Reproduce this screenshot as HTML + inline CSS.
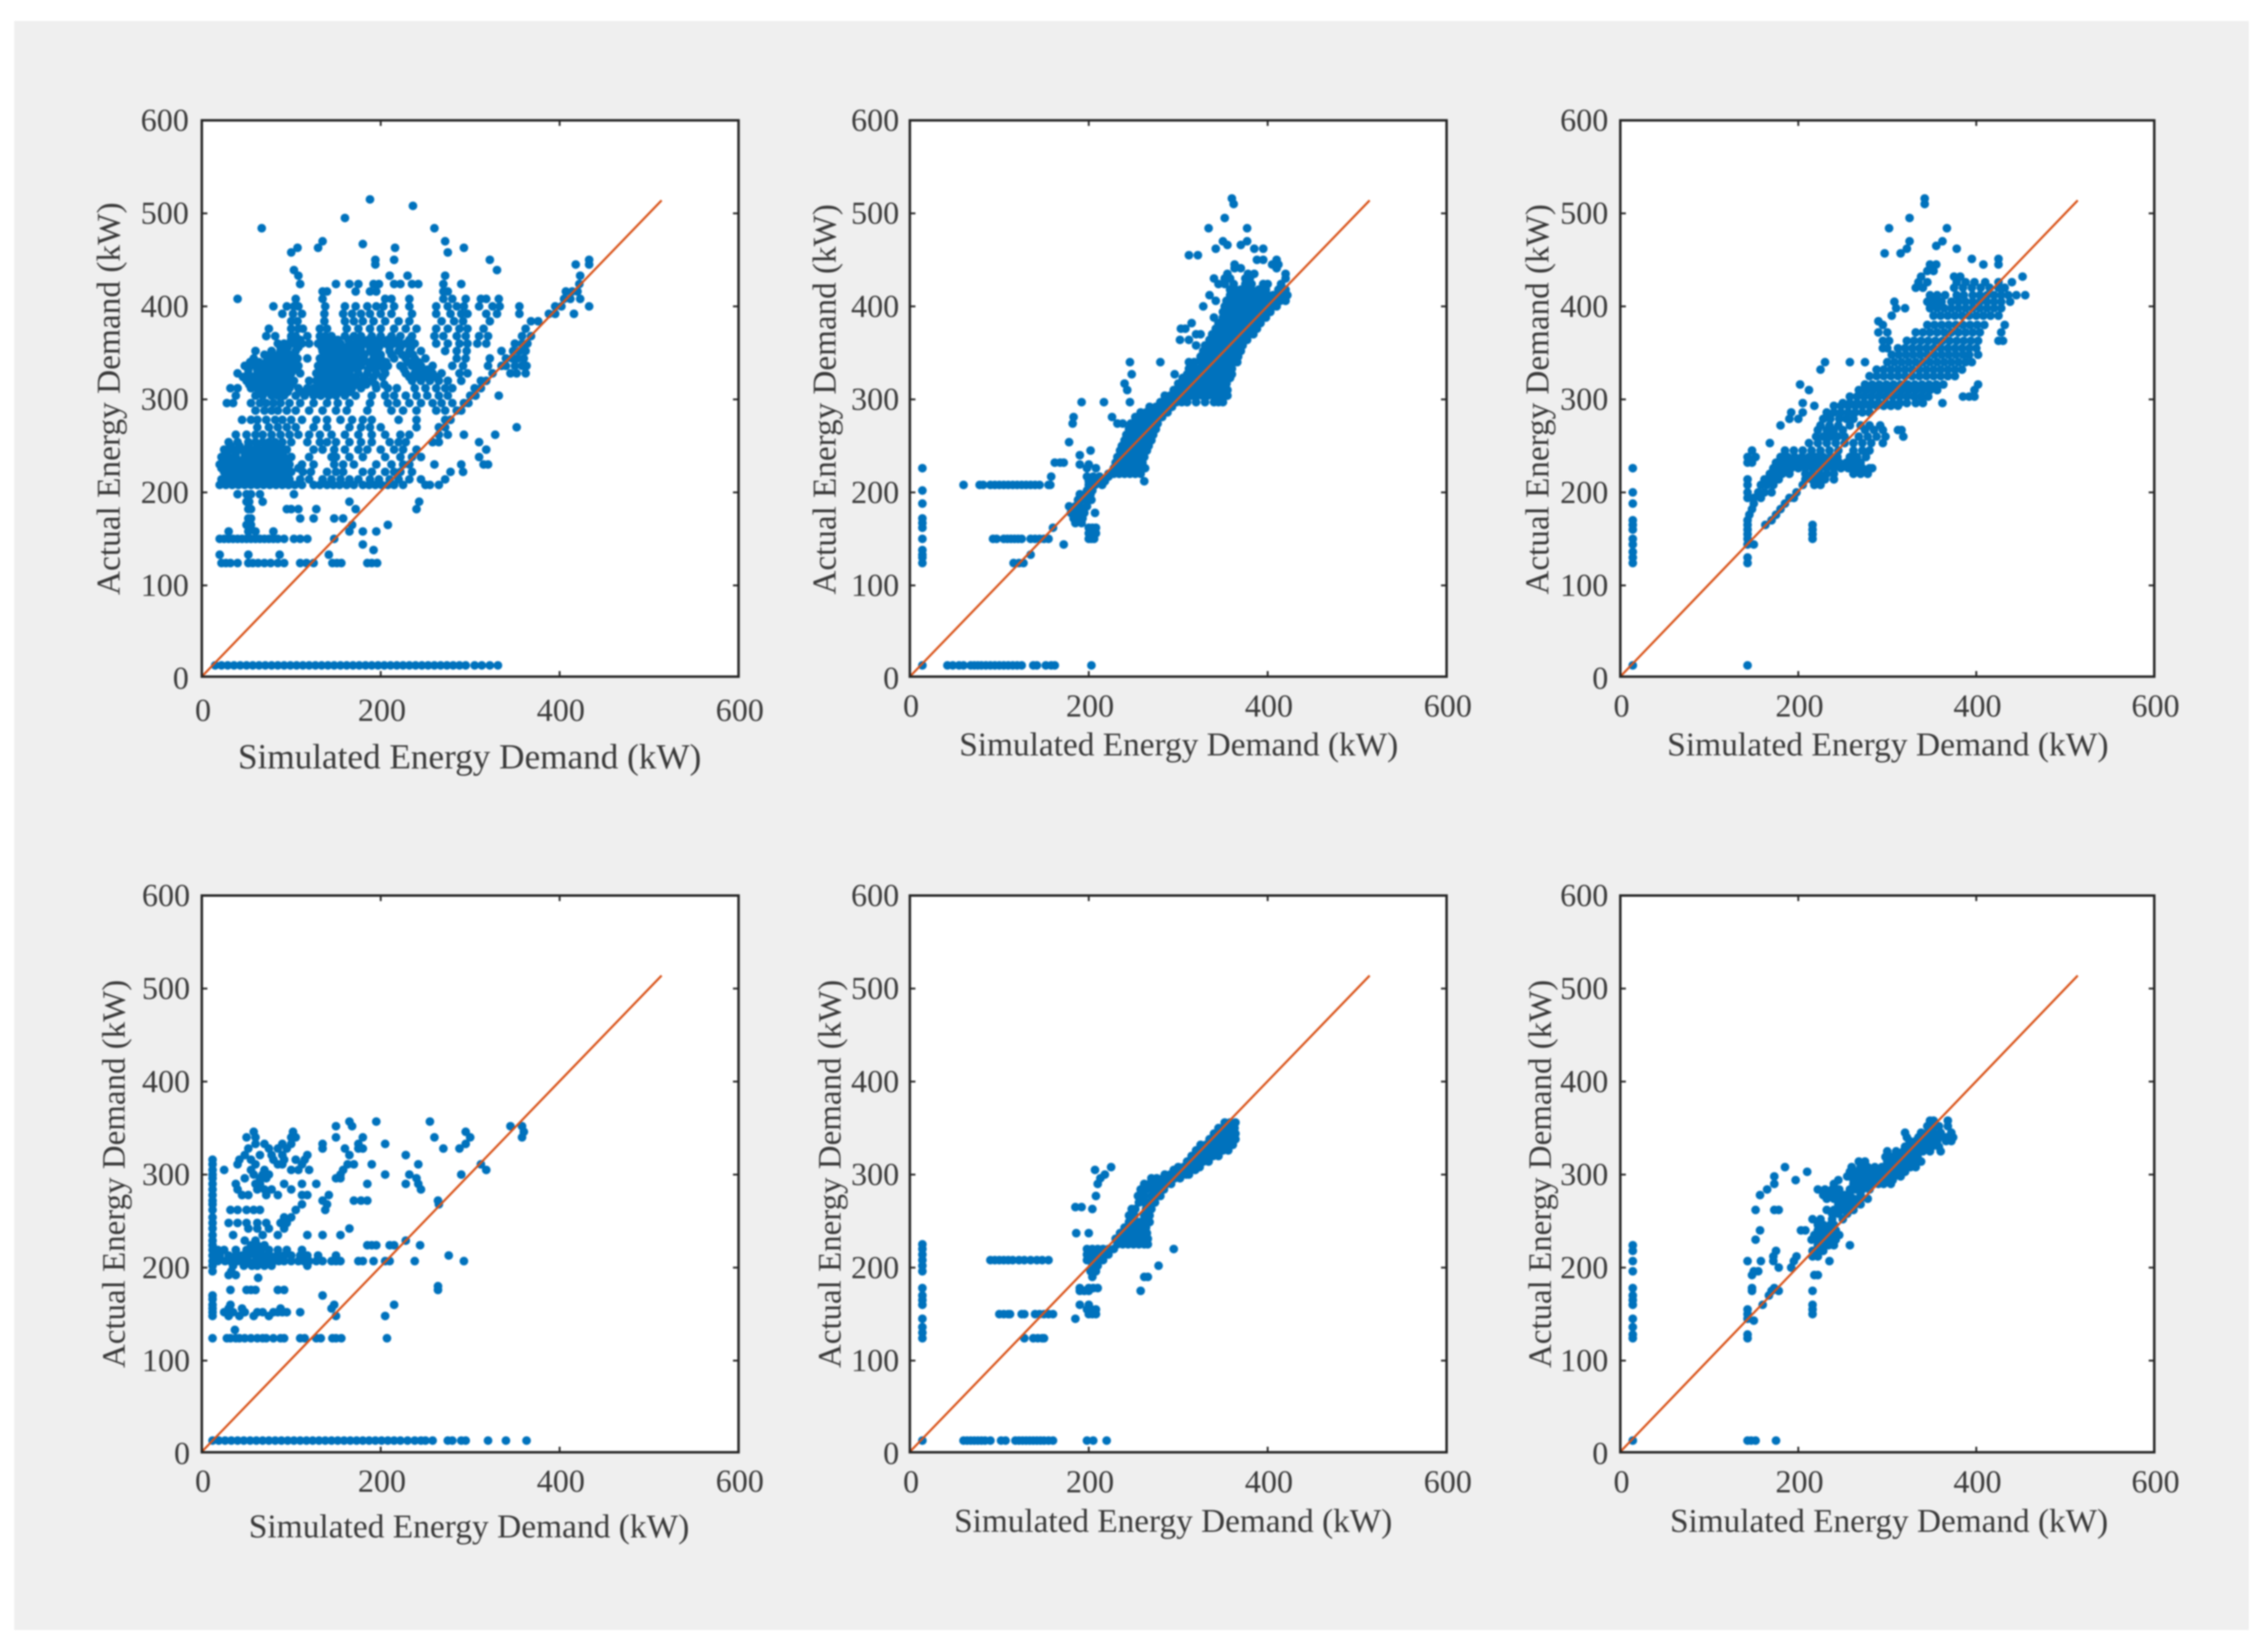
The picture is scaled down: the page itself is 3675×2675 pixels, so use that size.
<!DOCTYPE html>
<html lang="en">
<head>
<meta charset="utf-8">
<title>Simulated vs Actual Energy Demand</title>
<style>
html,body{margin:0;padding:0;background:#fff}
svg{display:block;filter:blur(1.2px)}
text{font-family:"Liberation Serif",serif;fill:#3a3a3a}
</style>
</head>
<body>
<svg id="figure" xmlns="http://www.w3.org/2000/svg" width="3675" height="2675" viewBox="0 0 3675 2675">
<rect x="23" y="34" width="3621" height="2607" fill="#efefef"/>
</svg>
<script>
const xTickValues=[0,200,400,600];
const yTickValues=[0,100,200,300,400,500,600];
const xTitle="Simulated Energy Demand (kW)";
const yTitle="Actual Energy Demand (kW)";
const diagonalSimulated=[0,514];
const diagonalActual=[2,514];
// Each row: actual demand level first, then the simulated demand values read at that level.
const panel1Rows=[
[14,15,22,29,36,43,50,57,64,71,78,85,92,99,106,113,120,127,134,141,148,155,162,169,176,183,190,197,204,211,218,225,232,239,246,253,260,267,274,281,288,295,305,313,322,331],
[124,22,27,32,40,52,57,63,70,77,85,92,110,117,125,146,151,156,185,190,196],
[133,20,52,87,142],[138,192],[144,180],
[150,20,25,30,35,40,45,50,55,60,65,70,75,80,85,92,103,110,118,148],
[158,30,52,60,80,165,180,195],[165,50,55,168,208],[172,52,55,110,125,148,158],
[182,52,55,95,100,108,128,172,240],[190,50,53,68,165,243],[198,40,50,55,65,103],
[208,20,27,34,41,48,55,62,69,76,83,90,97,104,112,125,132,140,147,154,162,170,180,187,194,201,208,215,225,250,255,265],
[214,22,30,38,45,52,60,67,75,82,90,98,110,120,135,145,155,165,175,188,198,210,220,232,245,272],
[218,27,35,43,50,58,65,72,80,88,95],
[222,25,32,40,47,55,62,70,78,85,92,100,113,122,140,150,158,180,190,205,215,222,235,278,292],
[226,22,30,37,44,51,58,65,72,80,87,95,108],
[230,20,28,38,45,52,60,67,75,82,90,98,112,125,148,158,170,195,212,225,232,260,290,315,320],
[234,26,34,42,50,58,66,74,80,88,96],
[238,22,30,38,48,55,62,70,78,85,92,100,120,145,150,165,180,205,222,235,245,310],
[242,28,38,48,58,66,74,82,90],
[246,25,35,45,55,62,70,78,85,95,125,135,148,160,175,185,200,215,225,240,318],
[250,32,42,52,62,72,80,88],
[254,30,40,52,60,68,75,82,90,100,118,132,140,150,165,178,190,210,220,228,258,265,310],
[262,38,50,60,68,78,88,98,108,120,132,145,160,175,190,205,222,232,265,275,293,328],
[270,62,75,85,95,105,125,140,165,178,188,200,240,265,272,352],
[278,45,55,62,72,82,90,100,112,128,140,155,168,180,190,220,240,272,278],
[288,60,70,78,85,95,105,120,135,150,162,185,212,225,240,262,272,285,290],
[296,28,35,55,65,72,80,88,98,110,125,140,152,165,188,208,218,232,245,258,268,280,293,298],
[304,38,60,68,78,85,92,105,115,125,133,142,150,160,172,190,205,215,228,240,252,265,275,300,306,332],
[308,64,72,80,88,96,112,122,130,138,146,156,166],
[312,32,40,55,62,68,75,82,90,98,108,118,125,135,142,150,158,168,178,195,208,218,238,250,262,272,280,305,312],
[316,53,60,68,76,84,92,100,132,140,148,156,164,174,184,194,204],
[320,50,58,65,72,80,88,95,103,120,128,138,145,152,160,170,180,190,235,245,255,265,275,290,312,318],
[324,46,56,66,74,82,90,98,132,140,148,156,164,172,182,192,202,232,242,252,262],
[328,40,52,62,70,78,85,92,100,110,128,135,142,150,158,165,175,185,195,205,228,238,248,258,268,288,297,325,345,352,362],
[332,52,62,72,80,88,96,104,134,142,150,158,166,174,186,194,204,226,240,252],
[336,48,60,68,78,85,92,100,108,130,138,145,152,160,168,178,188,198,208,222,235,245,258,280,292,320,335,340,350,358,363],
[340,54,64,72,80,88,96,104,136,144,152,160,168,176,186,196,206,230,242],
[344,58,75,82,90,98,107,118,132,140,148,155,162,172,180,192,200,215,228,238,250,285,295,322,340,347,353,360],
[348,70,78,86,94,102,140,148,156,164,172,182,192,200,212,224,236],
[352,60,78,88,95,105,135,142,150,158,168,178,188,195,210,220,232,245,272,285,296,335,348,355,362],
[356,88,96,108,134,142,150,160,170,178,188,198,210,222,234],
[360,85,92,103,112,120,130,138,147,155,165,172,182,192,205,215,228,238,262,275,288,297,308,318,350,358,364],
[364,100,110,136,144,152,164,174,186,198,208,220,232],
[368,72,82,100,105,118,132,138,145,160,170,178,190,200,212,222,235,260,270,285,295,310,320,358,368],
[376,75,100,108,113,132,140,162,175,188,200,215,228,240,262,275,288,297,315,362],
[384,100,107,137,160,170,180,192,205,220,232,268,282,292,322,368,376],
[392,90,102,112,137,158,168,178,188,200,212,235,262,278,290,297,318,330,355,388,395,416],
[400,80,95,103,108,138,160,172,185,195,203,215,232,262,275,285,293,310,325,333,355,395,402,433],
[408,40,105,135,205,212,232,270,280,295,312,318,332,405,412,423],
[416,135,140,172,188,195,270,275,407,414,420],
[424,110,150,165,175,192,198,215,222,235,242,270,290,422],
[433,108,210,230,272,423],[439,103,330],[445,194,418,433],[450,194,215,322,433],
[458,100,275],[463,107,130,216,293],[470,135,272],[467,180],
[484,67,260],[495,160],[508,236],[515,188]
];
const panel2Rows=[
[14,14,42,48,55,60,68,72,76,80,85,90,95,100,105,110,115,120,125,138,142,152,158,162,203],
[124,14,116,122,127],[130,14],[133,14,135],[138,14],[144,172],
[150,14,93,97,105,109,113,117,121,125,135,140,145,150,155,200,203,206],
[156,200,204,208],[162,14,160,200,204,208],[167,14,185,192],[172,14,183,188,193],
[178,180,185,190,195,207],[185,178,185,190,198],[188,14],[192,188,192,198,203],[198,190,198,202],
[202,14,198,204],[208,60,78,82,90,95,100,105,110,115,120,125,130,135,140,145,155,157,200,207,215],
[212,200,205,210,218,262],[217,158,198,205,212,222],
[220,222,228,234,240,246,252,258],[226,14,198,208,228,234,240,246,252,258,263],[230,200,190],
[232,162,168,172,230,236,242,248,254,260],[238,232,238,244,250,256,262],[240,190],
[245,202,235,241,247,253,259,265],[250,237,243,249,255,261,267],[254,178],
[256,240,246,252,258,264,270],[262,242,248,254,260,266,272],[268,245,251,257,263,269,275],
[274,182,232,238,247,253,259,265,271,277],[281,183,226,252,258,264,270,276,282],
[286,258,264,270,276,282,288],[292,268,275,281,287,293],
[297,192,217,246,280,286,292,298,304,310,320,330,340,345,350],
[304,285,291,297,303,309,315,321,327,333,339,345,351,355],
[310,243,295,301,307,313,319,325,331,337,343,349,355],[317,240,300,306,312,318,324,330,336,342,348,354],
[323,305,311,317,323,329,335,341,347,353,358],[327,248,296,310,318,324,330,336,342,348,354,360],
[333,312,318,324,330,336,342,348,354,360],[340,246,280,312,318,326,332,338,344,350,356,362,366],
[346,325,331,337,343,349,355,361,367],[352,328,334,340,346,352,358,364,370],
[358,320,330,336,342,348,354,360,366,372],[364,302,312,335,341,347,353,359,365,371,377],
[370,320,325,338,344,350,356,362,368,374,380,384],[376,303,308,342,348,354,360,366,372,378,384,388],
[382,315,345,351,357,363,369,375,381,387,392],[388,340,350,356,362,368,374,380,386,392,398],
[394,350,355,361,367,373,379,385,391,397,403],[400,328,352,358,364,370,376,382,388,394,400,406,410],
[406,342,354,360,366,372,378,384,390,396,402,408,414,420],[412,335,358,364,370,376,382,388,394,400,406,412,418,422],
[418,358,364,370,376,382,390,398,412,420],[424,345,352,362,375,382,395,400,415],
[430,340,352,358,375,380,420],[435,355,378,385,420],[441,363,370,410],[445,363,405,412],
[450,388,395,410],[455,322,312],[462,342,385,395],[466,355,370],[470,350,377],
[484,334,377],[495,352],[510,362],[516,360]
];
const panel3Rows=[
[14,14,143],[124,14,143],[130,14,143],[136,14],[144,14,143,150],[150,14,143,216],[155,143,216],[160,14,143,216],
[165,14,143,163,216],[170,14,143,170],[176,145,175],[182,148,180],[188,14,150,185],[194,143,150,158,190,195],
[200,14,143,155,162,170,198],[208,143,158,165,172,205,218,225],[214,143,162,170,178,208,215,222,230,240],
[220,168,175,182,190,208,216,224,232,240,262,270,278],
[226,14,172,178,185,192,200,208,216,224,232,240,248,256,264,272,280,283],
[232,143,148,175,182,190,198,206,214,222,230,238,246,254,262,270],
[238,143,152,180,188,196,204,212,220,228,236,244,258,266,276],
[245,148,185,195,205,215,225,235,245,262,272,280],[253,168,212,222,232,242,252,262,272,282,295],
[260,220,228,236,244,252,268,278,288,298,318],[267,222,232,240,250,275,285,295,312,316],
[272,180,225,235,245,258,270,280,292],[279,190,200,228,236,246,254,262],[286,192,205,232,240,248,256,264,272,280],
[293,218,240,248,256,264,272,280,288,296,304,312],[296,205,250,258,266,274,282,290,298,306,314,322,332,340,362],
[303,258,266,274,282,290,298,306,314,322,330,338,346,385,392,398],
[310,212,268,276,284,292,300,308,316,324,332,340,348,356,398],
[316,202,275,283,291,299,307,315,323,331,339,347,355,363,402],[325,280,288,296,304,312,320,328,336,344,352,360,368,376],
[332,225,288,296,304,312,320,328,336,344,352,360,368,376,384],[340,230,258,275,300,308,316,324,332,340,348,356,364,372,380,388,395],
[348,305,313,321,329,337,345,353,361,369,377,385,392,402],[355,295,300,312,320,328,336,344,352,360,368,376,384,392,400],
[363,295,302,322,330,338,346,354,362,370,378,386,394,402,425,430],[372,290,300,332,340,348,356,364,372,380,388,396,404,428],
[380,295,345,353,361,369,377,385,393,401,409,432],[384,290],[390,305,352,360,368,376,384,392,400,408,416,425],
[398,310,320,348,356,364,372,380,388,396,404,412,420,428],[405,308,345,353,361,372,380,388,396,404,412,420,428,438],
[412,348,356,365,378,386,396,404,412,420,428,436,445,455],[420,332,340,375,385,395,405,415,425,432],
[426,335,345,378,388,398,410,425,440],[432,338,375,382,452],[438,345,352],[445,348,355,408,425],[451,395,425],
[457,297,315],[462,322,378],[465,355],[470,325,362],[484,302,367],[495,325],[510,342],[516,342]
];
const panel4Rows=[
[14,12,19,26,33,40,47,54,61,68,75,82,89,96,103,110,117,124,131,138,145,152,159,166,173,180,187,194,201,208,215,222,230,238,245,250,258,275,280,290,295,320,340,363],
[124,12,28,32,38,42,48,55,62,68,72,80,88,92,110,115,128,133,146,150,156,207],[133,37],
[148,12,30,42,58,75,150,205],[152,12,25,35,48,62,68,80,85,90,95,110],[156,12,30,45,88,145],[160,12,32,148,215],[166,12],[170,12,135],
[176,32,50,55,60,85,92,264],[180,264],[189,63],[192,30,38],[196,12,33],
[202,12,35,47,56,62,70,78,118],[207,12,18,26,32,40,46,52,60,66,72,80,86,92,100,108,114,120,128,135,145,150,155,175,180,192,205,210,238,293],
[213,12,20,30,38,45,52,60,68,76,84,92,100,110,118,130,150,276],[219,12,18,25,38,50,58,66,75,85,95,112],
[224,12,55,62,70,185,190,195,210,215,244],[229,12,48,60,228],[235,12,35,68,85,118,135,155],[242,12,52,62,75,92,165],[248,12,30,40,50,62,72,88,95],[254,12,92,100],
[262,12,32,40,50,58,65,138,105],[268,12,112,140,265],[272,12,135,170,178,185,264],[278,12,45,52,72,85,112,118,142],[284,12,40,62,70,78,100,245],[290,12,38,60,65,92,112,128,185,228,242],
[296,12,48,65,72,150,155,240],[300,12,58,68,75,155,205,232,290],[305,12,25,55,70,100,108,120,158,318],[311,12,40,60,85,90,112,163,170,190,242,312],
[316,12,42,55,80,92,105,115],[321,48,65,78,90,118,165,228],[328,52,75,85,95,135,160,175,180,270,288],[333,60,70,90,100,135,175,205,295],[340,50,60,100,105,180,150,260,300,358],[346,58,102,295,360],[352,150,168,345,358],[357,165,195,255]
];
const panel5Rows=[
[14,14,60,64,68,72,76,80,84,90,102,107,118,122,126,130,134,138,142,146,150,155,160,198,205,220],
[124,14,128,138,143,148,150],[130,14],[136,14],[145,14,185],
[150,100,105,110,112,125,128,140,145,150,155,160,200,204,208],[155,198,203,208],[160,14,190,200],[165,14],[170,14],
[175,190,195,200,258],[178,14,190,200,205,210],[190,204,262,266],[196,14,202,208],[202,14,204,210,278],
[208,14,90,95,100,105,110,115,122,128,135,142,148,155,198,204,210,216],[214,14,198,204,210,216,222],[220,14,198,204,210,216,222,228,295],
[225,14,232,238,244,250,256,262,266],[231,230,236,242,248,254,260,266],[237,186,200,235,241,247,253,259,265],[243,240,246,252,258,264],
[249,245,251,257,263,268],[256,245,251,262,268],[263,204,248,252,264,270],[265,185,192],[270,256,262,268,274],[277,208,255,262,270,276,280],
[284,258,264,272,278,284],[290,210,262,268,275,281,287,292],[296,213,270,276,283,290,296,302],[300,218,285,291,297,303,309,312],[305,207,295,301,307,313,319],
[308,225,300,306,312,318,324],[314,310,316,322,328,334],[320,315,321,327,333,339,345],[326,320,326,332,338,344,350,356],
[332,325,331,337,343,349,355,361],[338,335,341,347,353,359,364],[344,340,346,352,358,364],[350,345,351,357,363],[356,352,358,364]
];
const panel6Rows=[
[14,14,143,147,152,175],[124,14,143],[128,14,143],[136,14],[143,150],[145,14,143],[150,143,216],[155,143,216],[160,14,160,216],[165,14],[170,14,167],
[175,148,170,178,216],[178,14,148,173],[192,148,218,222],[196,14,150,155],[200,178,192],
[207,14,143,158,172,195,235],[212,172,198,216,222],[218,14,175,216,222,228],[224,14,222,228,234,240,258],[230,152,215,222,228,235,242],[235,218,225,232,240,246],
[240,157,203,208,222,230,236,242],[246,222,228,236,240],[252,216,225,238,250],[258,238,245,255],[262,152,173,178,232,240,248,256,262],
[268,245,250,258,264,270],[274,232,240,248,256,262,270,278],[278,157,228,235,243,252,258,270],[284,165,222,230,238,246,258,264,272,280],[290,173,240,262,268,274,282,290,296,304],
[294,197,245,262,270,278,286,294,300,306],[298,173,255,262,268,276,284,292,300,308,315],[303,210,258,265,272,280,288,296,304,312,320],[308,185,260,270,278,286,294,302,310,318,326,332],
[314,268,275,300,306,314,322,330,338],[319,298,305,312,320,328,334],[325,300,310,318,325,332,340,348,360],[330,320,328,335,342,350,358],[336,325,332,340,348,356,366,372],
[340,322,335,342,350,358,366,374],[345,320,338,345,352,360,372],[352,345,352,358,368],[358,348,352,368]
];
const allPanelRows=[panel1Rows,panel2Rows,panel3Rows,panel4Rows,panel5Rows,panel6Rows];

const layouts=[
{id:"panel-1",L:327,R:1196.7,T:195,B:1096.3,xty:1168,xlx:761,xly:1245,xlf:57,ylx:180,yly:646,ylf:54,ytr:306},
{id:"panel-2",L:1474.3,R:2344,T:195,B:1096.3,xty:1161,xlx:1910,xly:1224,xlf:54,ylx:1340,yly:647,ylf:53.7,ytr:1457},
{id:"panel-3",L:2625.5,R:3490.7,T:195,B:1096.3,xty:1161,xlx:3059,xly:1224,xlf:54.3,ylx:2495,yly:647,ylf:53.7,ytr:2606},
{id:"panel-4",L:327,R:1196.7,T:1451,B:2353,xty:2417,xlx:760,xly:2491,xlf:54.2,ylx:188,yly:1902,ylf:53.4,ytr:308},
{id:"panel-5",L:1474.3,R:2344,T:1451,B:2353,xty:2418,xlx:1901,xly:2482,xlf:53.9,ylx:1348,yly:1902,ylf:53.4,ytr:1457},
{id:"panel-6",L:2625.5,R:3490.7,T:1451,B:2353,xty:2418,xlx:3061,xly:2482,xlf:53.9,ylx:2499,yly:1902,ylf:53.4,ytr:2606}
];

const NS="http://www.w3.org/2000/svg";
const root=document.getElementById("figure");
function make(tag,parent,attrs){
  const el=document.createElementNS(NS,tag);
  for(const k in attrs){el.setAttribute(k,attrs[k]);}
  parent.appendChild(el);
  return el;
}
layouts.forEach(function(p,i){
  const xScale=function(v){return p.L+v*(p.R-p.L)/600;};
  const yScale=function(v){return p.T+(600-v)*1.507;};
  const g=make("g",root,{});
  
  
  const plot=make("rect",g,{x:p.L,y:p.T,width:p.R-p.L,height:p.B-p.T,fill:"#fff"});
  
  
  const dots=make("g",g,{fill:"#0072bd"});
  
  
  allPanelRows[i].forEach(function(row){
    for(let j=1;j<row.length;j++){
      const c=make("circle",dots,{cx:xScale(row[j]).toFixed(1),cy:yScale(row[0]).toFixed(1),r:7});
      
      
    }
  });
  const line=make("line",g,{x1:xScale(diagonalSimulated[0]),y1:yScale(diagonalActual[0]),x2:xScale(diagonalSimulated[1]),y2:yScale(diagonalActual[1]),stroke:"#d95319","stroke-width":3.5});
  
  
  const box=make("rect",g,{x:p.L,y:p.T,width:p.R-p.L,height:p.B-p.T,fill:"none",stroke:"#262626","stroke-width":4});
  
  
  xTickValues.forEach(function(v){
    const x=xScale(v);
    if(v>0&&v<600){
      const t1=make("line",g,{x1:x,x2:x,y1:p.B,y2:p.B-9,stroke:"#262626","stroke-width":3});
      
      
      const t2=make("line",g,{x1:x,x2:x,y1:p.T,y2:p.T+9,stroke:"#262626","stroke-width":3});
      
      
    }
    const lab=make("text",g,{x:x+2,y:p.xty,"text-anchor":"middle","font-size":52});
    
    
    lab.textContent=String(v);
  });
  yTickValues.forEach(function(v){
    const y=yScale(v);
    if(v>0&&v<600){
      const t1=make("line",g,{x1:p.L,x2:p.L+9,y1:y,y2:y,stroke:"#262626","stroke-width":3});
      
      
      const t2=make("line",g,{x1:p.R,x2:p.R-9,y1:y,y2:y,stroke:"#262626","stroke-width":3});
      
      
    }
    const lab=make("text",g,{x:p.ytr,y:y+17,"text-anchor":"end","font-size":52});
    
    
    lab.textContent=String(v);
  });
  const xl=make("text",g,{x:p.xlx,y:p.xly,"text-anchor":"middle","font-size":p.xlf});
  
  
  xl.textContent=xTitle;
  const yl=make("text",g,{transform:"translate("+(p.ylx+14)+" "+p.yly+") rotate(-90)","text-anchor":"middle","font-size":p.ylf});
  
  
  yl.textContent=yTitle;
});
</script>
</body>
</html>
